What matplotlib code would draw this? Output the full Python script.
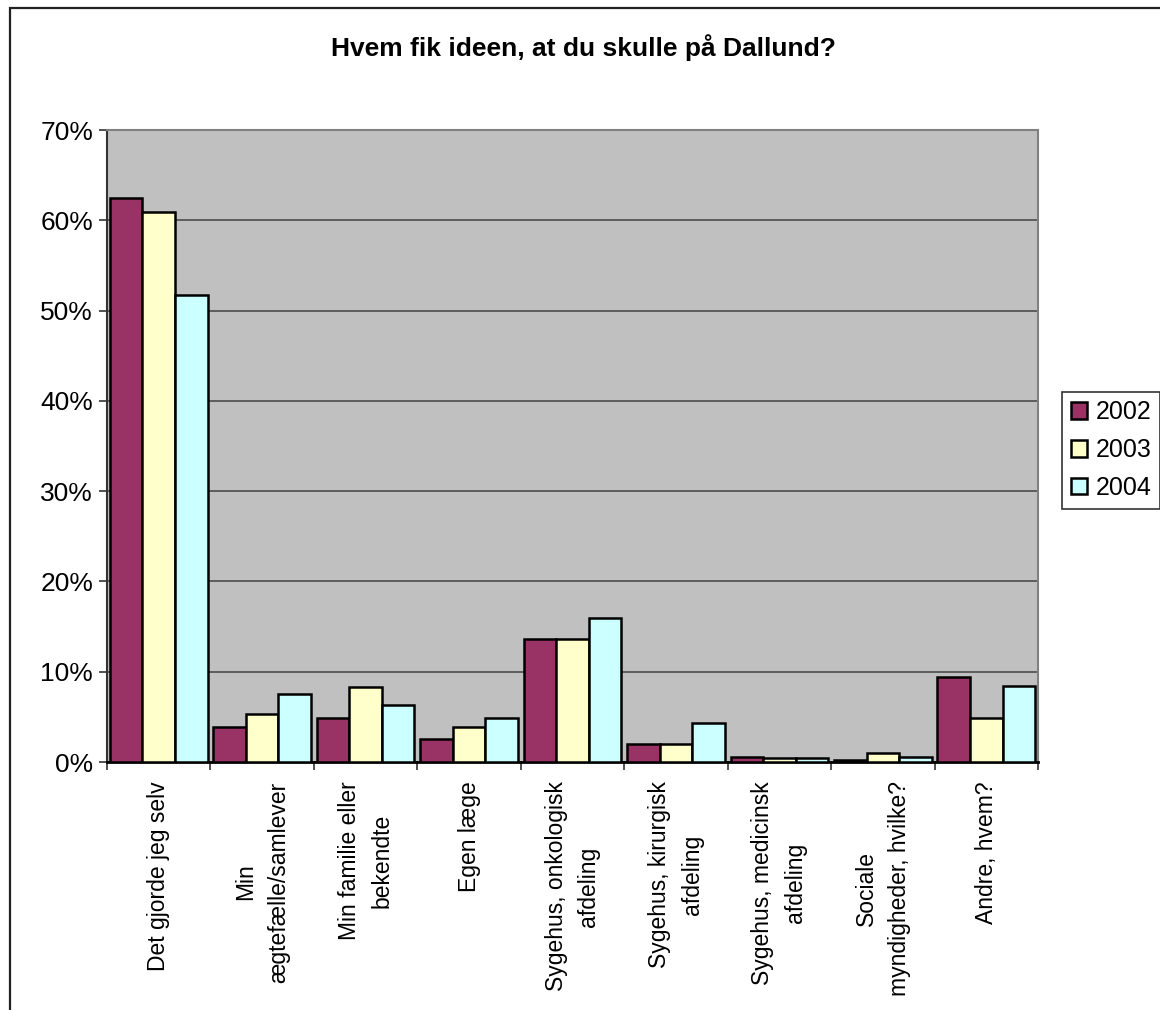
import numpy as np
import matplotlib
matplotlib.use("Agg")
import matplotlib.pyplot as plt
from matplotlib.patches import Rectangle
from matplotlib.ticker import FixedLocator, FuncFormatter

plt.rcParams['font.family'] = ['Liberation Sans', 'DejaVu Sans']

categories = [
    "Det gjorde jeg selv",
    "Min\nægtefælle/samlever",
    "Min familie eller\nbekendte",
    "Egen læge",
    "Sygehus, onkologisk\nafdeling",
    "Sygehus, kirurgisk\nafdeling",
    "Sygehus, medicinsk\nafdeling",
    "Sociale\nmyndigheder, hvilke?",
    "Andre, hvem?",
]
years = ["2002", "2003", "2004"]
share_2002 = [62.5, 3.9, 4.9, 2.6, 13.6, 2.0, 0.6, 0.2, 9.4]
share_2003 = [60.9, 5.3, 8.3, 3.9, 13.6, 2.0, 0.4, 1.0, 4.9]
share_2004 = [51.7, 7.5, 6.3, 4.9, 15.9, 4.3, 0.4, 0.6, 8.4]
colors = ["#993366", "#FFFFCC", "#CCFFFF"]

fig = plt.figure(figsize=(11.6, 10.1), dpi=100)
ax = fig.add_axes([107 / 1160, 1 - 762 / 1010, (1038 - 107) / 1160, (762 - 130) / 1010])
ax.set_facecolor("#C0C0C0")

# outer chart frame (only left and top edges fall inside the image)
fig.patches.append(Rectangle((10 / 1160, -0.2), 1.2, 1.2 - 8 / 1010,
                             transform=fig.transFigure, fill=False,
                             edgecolor="#222222", linewidth=1.6, zorder=0))

x = np.arange(len(categories))
width = 0.315
for i, (vals, year) in enumerate(zip([share_2002, share_2003, share_2004], years)):
    ax.bar(x + (i - 1) * width, vals, width, color=colors[i], edgecolor="black",
           linewidth=1.8, label=year, zorder=3)

ax.set_xlim(-0.5, len(categories) - 0.5)
ax.set_ylim(0, 70)
ax.set_yticks(np.arange(0, 71, 10))
ax.yaxis.set_major_formatter(FuncFormatter(lambda v, p: f"{int(v)}%"))
ax.yaxis.grid(True, color="#555555", linewidth=1.3, zorder=1)
ax.set_axisbelow(True)

ax.set_xticks(x)
ax.set_xticklabels(categories, rotation=90, ha="center", va="top",
                   multialignment="center", fontsize=16.5, linespacing=1.55)
ax.xaxis.set_minor_locator(FixedLocator(np.arange(-0.5, len(categories), 1.0)))
ax.tick_params(axis="x", which="major", length=0, pad=14)
ax.tick_params(axis="x", which="minor", length=6, width=1.2, color="#333333")
ax.tick_params(axis="y", length=6, width=1.2, color="#333333", labelsize=19, pad=4)

for side in ["top", "right"]:
    ax.spines[side].set_color("#808080")
    ax.spines[side].set_linewidth(1.5)
ax.spines["left"].set_color("#333333")
ax.spines["left"].set_linewidth(1.5)
ax.spines["bottom"].set_color("black")
ax.spines["bottom"].set_linewidth(2)

fig.text(0.503, 1 - 48 / 1010, "Hvem fik ideen, at du skulle på Dallund?",
         ha="center", va="center", fontsize=19, fontweight="bold")

leg = ax.legend(loc="center left", bbox_to_anchor=(1062 / 1160, 1 - 450 / 1010),
                bbox_transform=fig.transFigure, fontsize=18, frameon=True,
                fancybox=False, edgecolor="black", handlelength=0.65,
                handleheight=0.65, handletextpad=0.35, labelspacing=0.55,
                borderpad=0.35, borderaxespad=0)
leg.get_frame().set_linewidth(1.2)

fig.savefig("out.png", dpi=100)
